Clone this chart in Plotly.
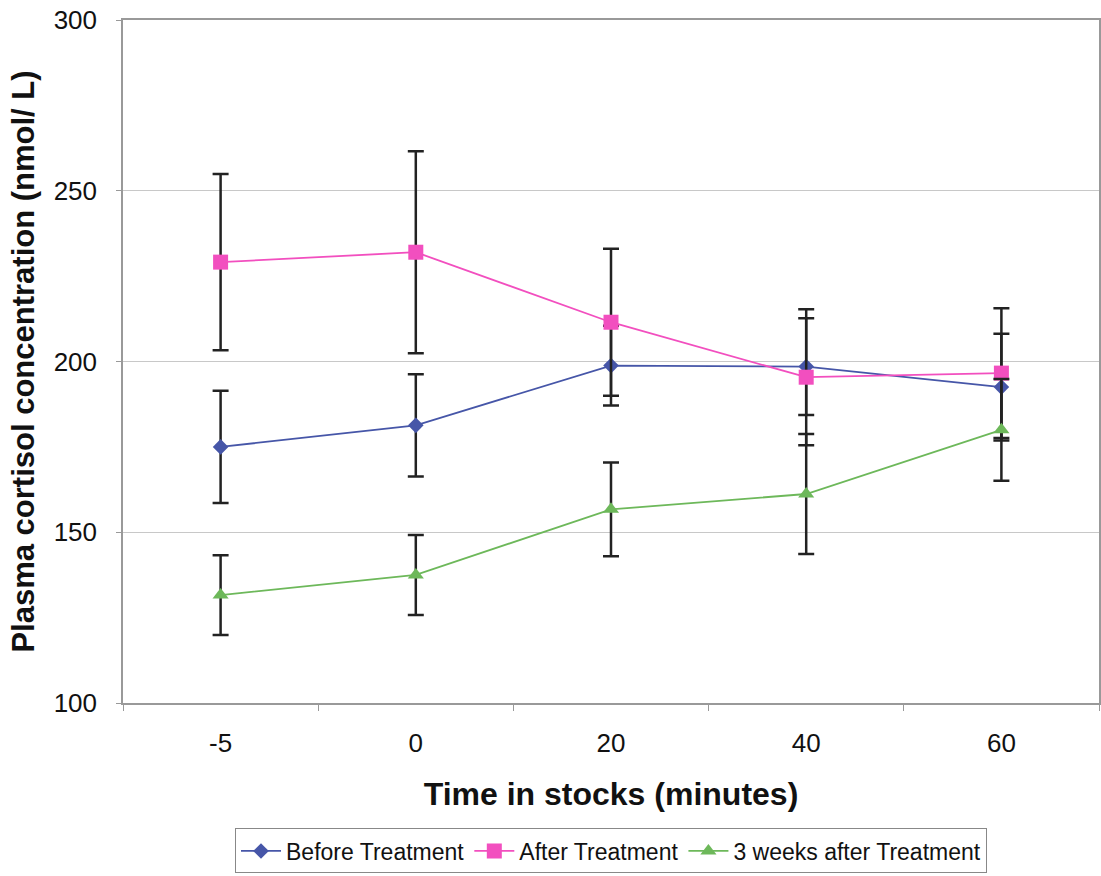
import plotly.graph_objects as go

times = ["-5", "0", "20", "40", "60"]
before = [175.0, 181.3, 198.8, 198.5, 192.5]
before_err = [16.4, 15.0, 11.7, 14.2, 15.6]
after = [229.1, 232.0, 211.5, 195.4, 196.6]
after_err = [25.8, 29.6, 21.5, 19.9, 19.0]
weeks3 = [131.6, 137.5, 156.7, 161.2, 180.0]
weeks3_err = [11.7, 11.7, 13.7, 17.6, 14.9]

series = [
    ("Before Treatment", before, before_err, "#4656A8", "diamond", 12),
    ("After Treatment", after, after_err, "#F24FBF", "square", 15),
    ("3 weeks after Treatment", weeks3, weeks3_err, "#6DB85A", "triangle-up", 14),
]

fig = go.Figure()
for name, vals, errs, col, sym, sz in series:
    fig.add_trace(go.Scatter(
        x=times, y=vals, name=name, mode="lines+markers",
        line=dict(color=col, width=1.8),
        marker=dict(symbol=sym, size=sz, color=col),
        error_y=dict(type="data", array=errs, visible=True,
                     color="#222222", thickness=2.5, width=8),
    ))

fig.update_layout(
    width=1101, height=876,
    margin=dict(l=123, r=2, t=20, b=171),
    paper_bgcolor="white", plot_bgcolor="white",
    font=dict(family="Liberation Sans, Arial, sans-serif", color="#111111"),
    showlegend=True,
    legend=dict(orientation="h", x=0.5, xanchor="center", y=-0.2496, yanchor="bottom",
                font=dict(size=23, color="#111111"),
                bordercolor="#888888", borderwidth=1, bgcolor="white",
                itemwidth=40, tracegroupgap=0),
)
fig.update_xaxes(
    type="category", range=[-0.5, 4.5], tickson="boundaries", ticks="outside", ticklen=6,
    tickcolor="#999999", tickfont=dict(size=26), ticklabelstandoff=16,
    showline=True, linecolor="#999999", linewidth=1.5, mirror=True,
    showgrid=False, automargin=False,
    title=dict(text="<b>Time in stocks (minutes)</b>", font=dict(size=32), standoff=26),
)
fig.update_yaxes(
    range=[100, 300], dtick=50, ticks="outside", ticklen=5,
    tickcolor="#999999", tickfont=dict(size=26), ticklabelstandoff=14,
    showline=True, linecolor="#999999", linewidth=1.5, mirror=True,
    showgrid=True, gridcolor="#C8C8C8", gridwidth=1, zeroline=False,
    automargin=False,
    title=dict(text="<b>Plasma cortisol concentration (nmol/ L)</b>", font=dict(size=31), standoff=10),
)

fig.write_html("out.html", config={"displayModeBar": False},
               post_script="document.body.style.margin='0';document.body.style.overflow='hidden';")
